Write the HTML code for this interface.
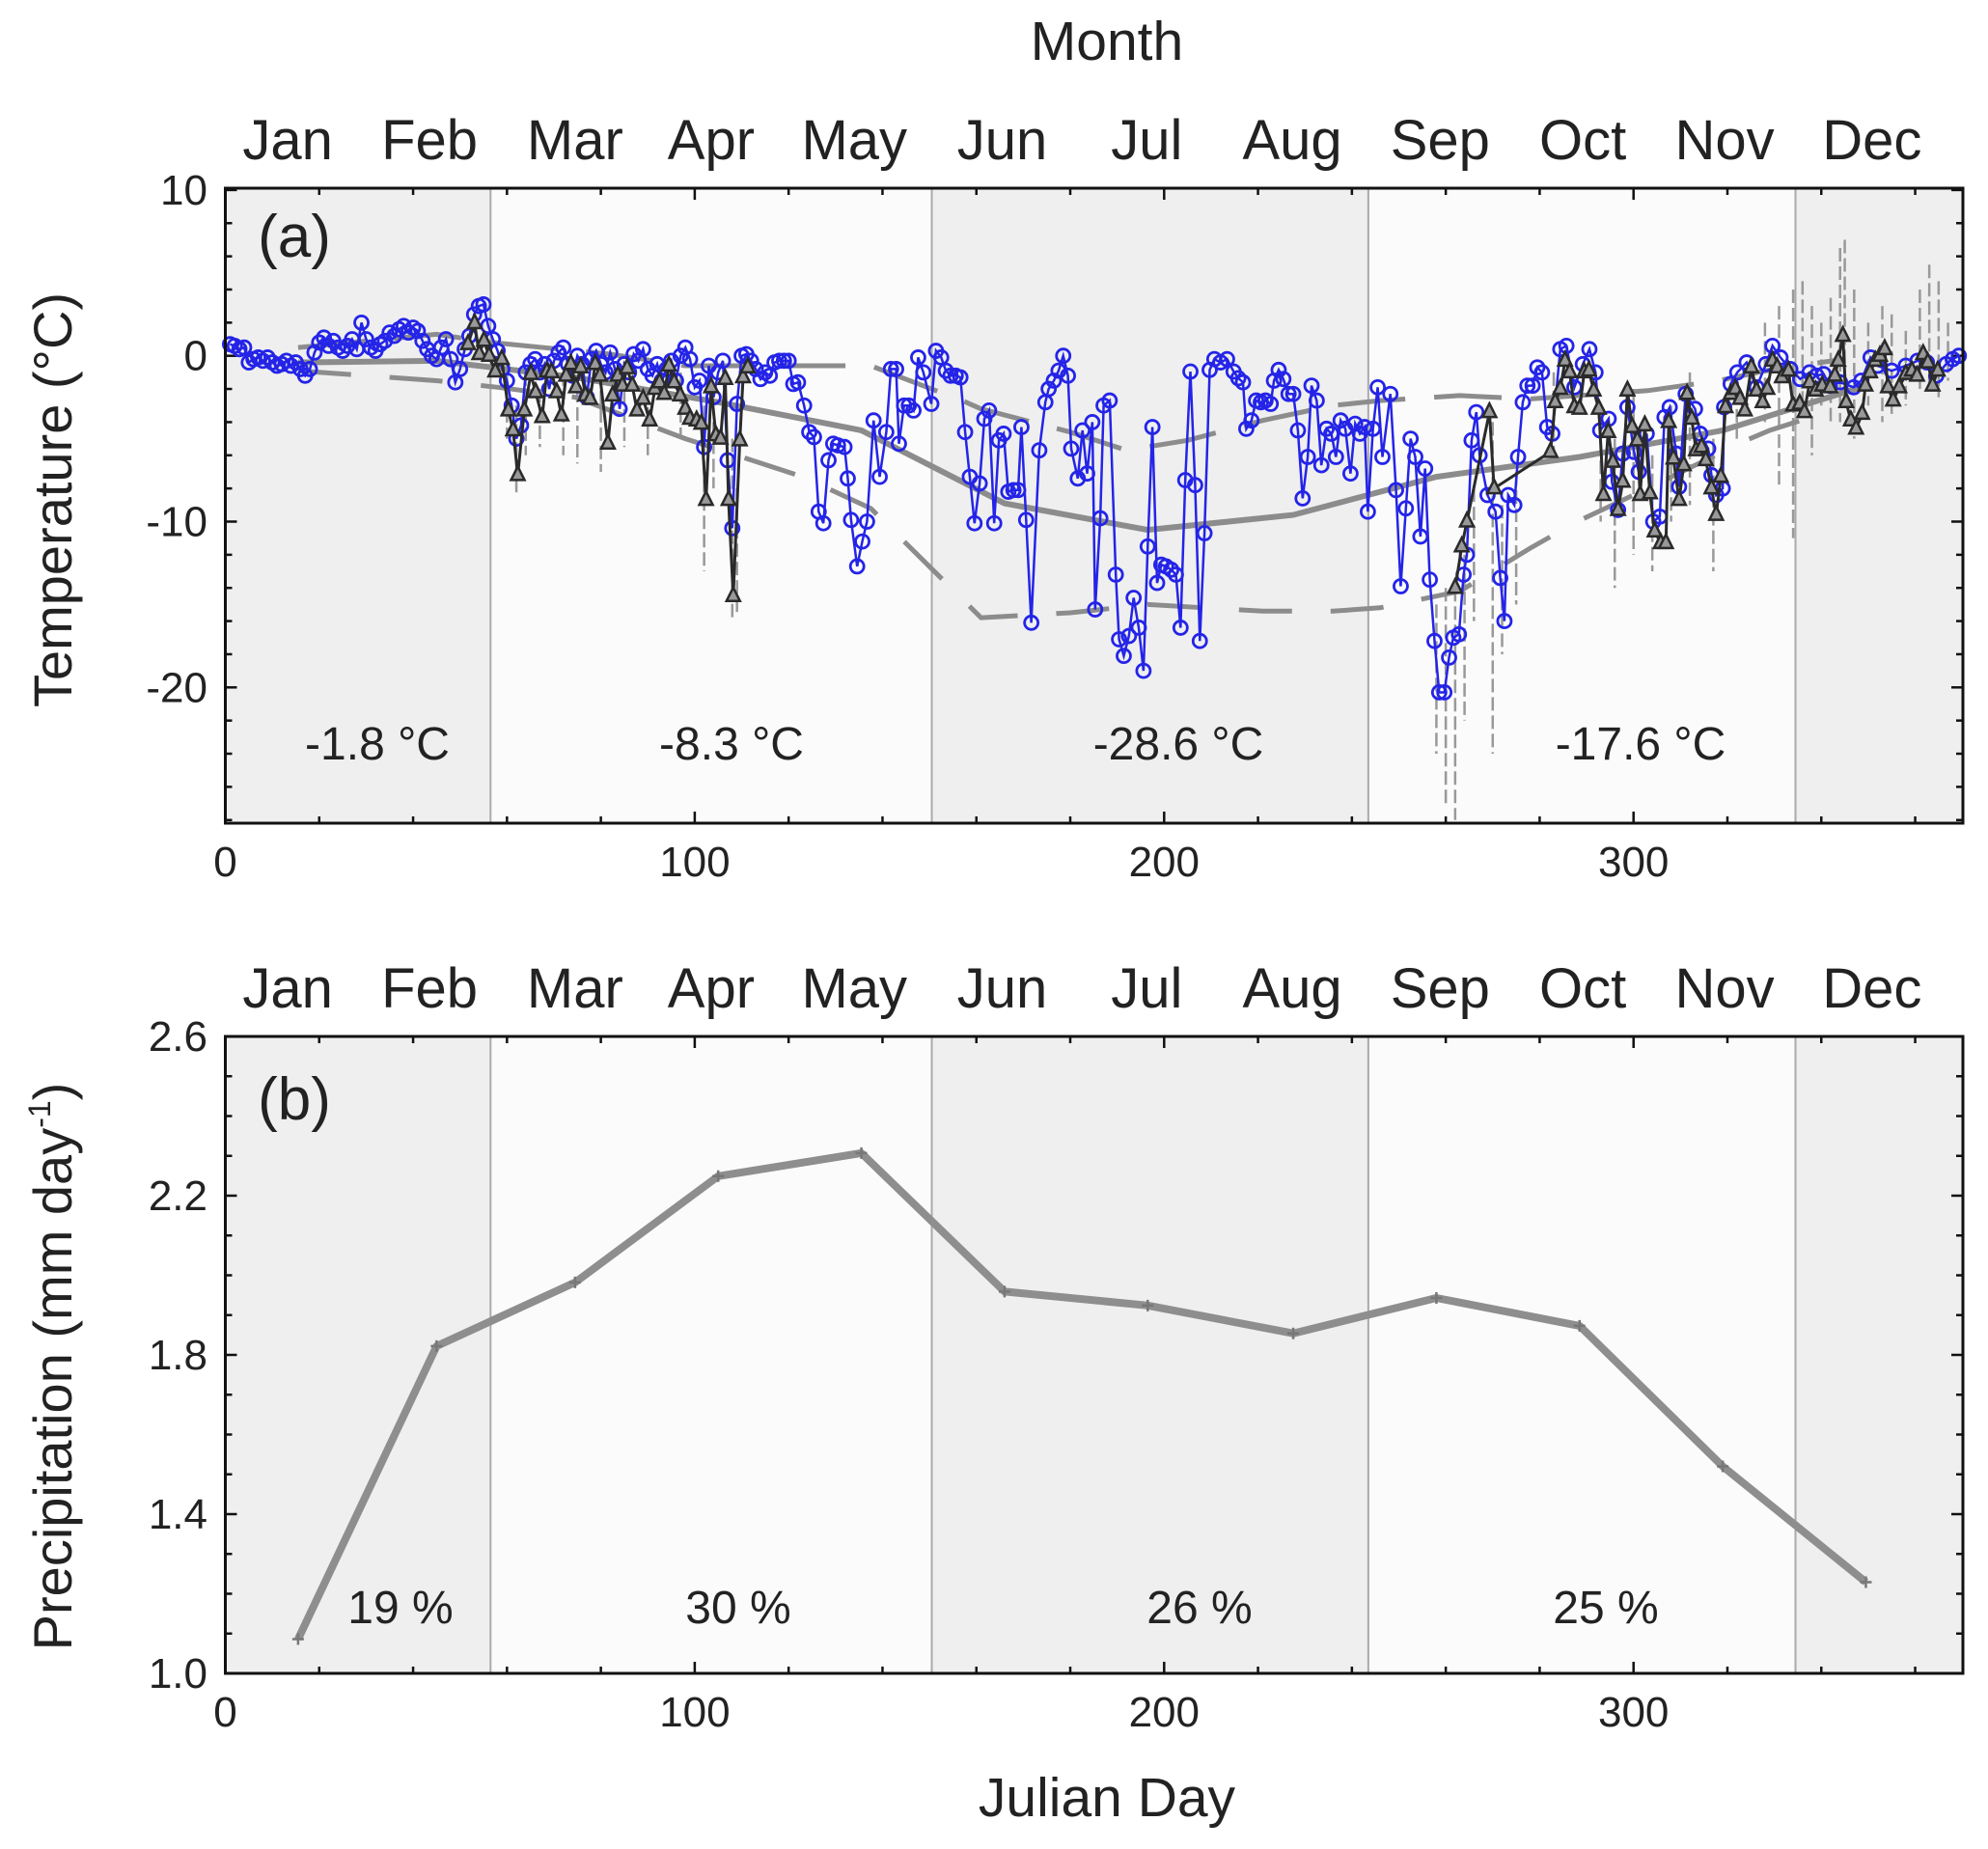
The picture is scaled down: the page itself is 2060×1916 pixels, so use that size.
<!DOCTYPE html>
<html><head><meta charset="utf-8"><style>
html,body{margin:0;padding:0;background:#fff;}
svg{display:block;font-family:"Liberation Sans",Arial,sans-serif;}
</style></head><body>
<svg id="fig" width="2060" height="1916" viewBox="0 0 2060 1916" xmlns="http://www.w3.org/2000/svg"></svg>
<script>
// ---- data ----
const monthNames=["Jan","Feb","Mar","Apr","May","Jun","Jul","Aug","Sep","Oct","Nov","Dec"];
const monthMidDays=[15.5,45,74.5,105,135.5,166,196.5,227.5,258,288.5,319,349.5];
const monthLabelDays=[13.3,43.5,74.5,103.5,134,165.5,196.3,227.3,258.8,289.2,319.4,350.8];
const precipValues=[1.086,1.822,1.982,2.249,2.307,1.959,1.924,1.854,1.943,1.873,1.520,1.229];
const seasonBounds=[0,56.5,150.5,243.5,334.5,370];
const seasonTempLabels=["-1.8 °C","-8.3 °C","-28.6 °C","-17.6 °C"];
const seasonPrecipLabels=["19 %","30 %","26 %","25 %"];
const meanTemps=[-0.4,-0.3,-1.3,-2.8,-4.5,-8.9,-10.5,-9.6,-7.3,-6.1,-4.5,-1.8];
const lowDays=[15.5,45,58,74.5,98,123,137.5,151.4,161,180,196.5,221,236,246,263,278,288,303,324,329,340];
const lowTemps=[-0.9,-1.5,-1.9,-2.5,-5.0,-7.3,-9.2,-13.1,-15.8,-15.5,-15.0,-15.4,-15.4,-15.2,-14.2,-11.6,-10.0,-8.0,-5.1,-4.5,-3.5];
const highDays=[15.5,45,57,82,98,123,137.5,151.4,157,161,180,192,205,221,236,246,263,278,303,318,330,345];
const highTemps=[0.5,1.3,0.8,0.1,-0.6,-0.6,-0.6,-2.1,-2.7,-3.2,-4.6,-5.7,-5.1,-3.9,-3.0,-2.7,-2.4,-2.6,-2.1,-1.5,-0.8,-0.2];
const blueDays=[1,2,3,4,5,6,7,8,9,10,11,12,13,14,15,16,17,18,19,20,21,22,23,24,25,26,27,28,29,30,31,32,33,34,35,36,37,38,39,40,41,42,43,44,45,46,47,48,49,50,51,52,53,54,55,56,57,
58,59,60,61,62,63,64,65,66,67,68,69,70,71,72,73,74,75,76,77,78,79,80,81,82,83,84,85,86,87,88,89,90,91,92,93,94,95,96,97,98,99,
100,101,102,103,104,105,106,107,108,109,110,111,112,113,114,115,116,117,118,119,120,121,122,
123.3,124.4,125.4,126.4,127.4,128.5,129.5,130.5,131.9,132.6,133.3,134.6,135.7,136.7,138.1,139.4,140.8,141.8,142.9,143.5,144.6,145.6,146.6,147.6,148.7,150.4,151.4,152.5,153.5,154.5,155.6,156.6,157.6,158.6,159.6,160.7,161.7,162.7,163.8,164.8,165.8,166.8,167.9,168.9,169.6,170.6,171.7,173.4,174.7,175.4,176.5,177.5,178.5,179.5,180.2,181.6,182.6,183.6,184.7,185.3,186.4,187.1,188.4,189.7,190.4,191.4,
192.5,193.5,194.6,195.6,196.5,197.5,198.5,199.4,200.4,201.5,202.5,203.5,204.5,205.6,206.6,207.6,208.6,209.7,210.7,212,213.4,214.8,215.8,216.8,217.5,218.6,219.6,220.6,221.6,222.7,223.4,224.4,225.4,226.5,227.5,228.5,229.5,230.6,231.4,232.5,233.5,234.6,235.6,236.6,237.6,238.6,239.7,240.7,241.7,242.7,243.4,244.5,245.5,246.5,248.2,249.4,250.4,251.5,252.5,253.5,254.6,255.6,256.6,257.6,258.6,259.7,260.7,261.6,262.8,263.8,264.5,265.5,266.5,267.2,268.9,270.6,271.6,272.5,273.3,274.6,275.4,276.4,277.4,278.5,279.5,280.5,281.6,282.7,284.4,
285.7,287.4,289.2,290.6,291.9,292.9,294.7,295.4,296.7,297.7,298.7,300.1,301.1,302.8,304.2,305.6,306.6,307.7,309.1,309.7,311.1,313.1,314.2,315.9,316.6,317.6,319,319.3,320.7,322.1,324.1,326.2,328.2,329.6,331.3,333.4,335.5,337.5,339,340.5,341.8,344,346.9,348.5,350.5,352,355,358,360.5,362.5,364.5,366.6,368,369.3];
const blueTemps=[0.7,0.6,0.4,0.5,-0.4,-0.2,-0.1,-0.3,-0.1,-0.4,-0.6,-0.5,-0.3,-0.6,-0.4,-0.8,-1.2,-0.8,0.2,0.8,1.1,0.6,0.9,0.5,0.3,0.6,1.0,0.4,2.0,1.0,0.5,0.3,0.7,0.9,1.4,1.2,1.6,1.8,1.4,1.7,1.5,0.9,0.4,0.0,-0.2,0.5,1.0,-0.2,-1.6,-0.8,0.4,1.2,2.5,3.0,3.1,1.8,1.0,
0.3,-0.8,-1.5,-3.0,-5.0,-4.2,-1.0,-0.5,-0.2,-1.0,-0.5,-2.0,-0.3,0.2,0.5,-0.5,-1.2,0.0,-0.5,-2.5,-0.2,0.3,-0.5,-1.0,0.2,-0.8,-3.2,-0.5,-1.0,0.1,-0.3,0.4,-0.8,-1.2,-0.5,-1.5,-0.8,-0.3,-1.5,0.0,0.5,-0.2,
-1.9,-1.5,-5.5,-0.6,-2.5,-1.0,-0.3,-6.3,-10.4,-2.9,0.0,0.1,-0.3,-0.8,-1.4,-1.0,-1.2,-0.4,-0.3,-0.3,-0.3,-1.7,-1.6,
-3.0,-4.6,-4.9,-9.4,-10.1,-6.3,-5.3,-5.4,-5.5,-7.4,-9.9,-12.7,-11.2,-10.0,-3.9,-7.3,-4.6,-0.8,-0.8,-5.3,-3.0,-3.0,-3.3,-0.1,-1.0,-2.9,0.3,-0.1,-0.9,-1.2,-1.2,-1.3,-4.6,-7.3,-10.1,-7.7,-3.8,-3.3,-10.1,-5.1,-4.7,-8.2,-8.1,-8.1,-4.3,-9.9,-16.1,-5.7,-2.8,-2.0,-1.5,-0.9,0.0,-1.2,-5.6,-7.4,-4.5,-7.1,-4.0,-15.3,-9.8,-3.0,-2.7,-13.2,-17.1,-18.1,
-16.9,-14.6,-16.4,-19.0,-11.5,-4.3,-13.7,-12.6,-12.7,-12.9,-13.2,-16.4,-7.5,-0.95,-7.8,-17.2,-10.7,-0.85,-0.2,-0.4,-0.2,-0.95,-1.35,-1.6,-4.4,-3.9,-2.7,-2.8,-2.7,-2.9,-1.5,-0.85,-1.4,-2.3,-2.3,-4.5,-8.6,-6.1,-1.8,-2.7,-6.6,-4.4,-4.7,-6.1,-3.9,-4.4,-7.1,-4.1,-4.7,-4.3,-9.4,-4.4,-1.9,-6.1,-2.3,-8.1,-13.9,-9.2,-5.0,-6.1,-10.9,-6.8,-13.5,-17.2,-20.3,-20.3,-18.2,-17.0,-16.8,-13.2,-12.0,-5.1,-3.4,-6.0,-8.4,-9.4,-13.4,-16.0,-8.4,-9.0,-6.1,-2.8,-1.8,-1.8,-0.7,-1.0,-4.3,-4.7,0.4,
0.6,-1.9,-0.5,0.4,-1.0,-4.5,-3.8,-7.6,-9.3,-5.9,-3.1,-5.8,-7.0,-4.7,-10.0,-9.7,-3.7,-3.1,-5.9,-7.9,-2.3,-3.2,-4.7,-5.6,-7.2,-8.4,-8.0,-3.1,-1.7,-1.0,-0.4,-1.9,-0.5,0.6,-0.1,-0.8,-1.4,-1.0,-1.2,-1.1,-1.8,-1.6,-1.9,-1.5,-0.1,-0.6,-0.9,-0.6,-0.3,-0.4,-1.2,-0.5,-0.2,0.0];
const triDays=[51.7,53.1,54.1,55.1,56.2,57.5,58.9,60.3,61.3,62.3,63.7,65.1,66.1,67.5,68.5,69.5,70.6,71.6,72.6,73.6,74.7,75.7,76.7,77.7,78.8,79.8,81.5,82.5,83.6,84.6,85.6,86.7,87.7,89,90.4,91.5,92.5,93.5,94.5,95.6,96.9,98,99,100.4,101.4,102.4,103.5,104.5,105.5,106.5,107.2,108.2,109.6,110.3,111.3,
262,263.4,264.5,269.3,270.3,282.3,283.3,284.4,285.4,286.4,287.4,288.5,289.5,290.5,291.5,292.6,293.6,294.6,295.6,296.7,297.7,298.7,299.7,300.8,301.4,302.4,303.5,304.5,305.8,306.9,307.5,308.5,309.7,310.7,311.4,312.4,313.3,314.5,315.4,316.6,317.6,318.6,319.6,320.7,321.7,322.7,323.7,325.1,326.2,327.5,328.5,329.6,330.6,331.6,333,334,335.4,336.4,337.5,338.8,340.2,341.9,342.9,343.6,344.6,345.3,346.3,347.4,348.7,349.4,350.4,351.5,352.5,353.5,354.2,355.3,356.6,358,359.3,360.4,361.7,362.7,363.7,364.8];
const triTemps=[0.7,1.96,0.1,0.9,0.0,-0.95,-0.2,-3.3,-4.5,-7.2,-3.3,-1.1,-2.2,-3.7,-0.95,-1.0,-2.2,-3.6,-1.2,-0.5,-1.9,-0.7,-2.4,-2.6,-0.5,-1.2,-5.3,-2.4,-1.2,-1.8,-0.75,-1.8,-3.3,-2.6,-3.9,-2.0,-1.6,-2.3,-0.6,-1.6,-2.4,-3.2,-3.8,-3.9,-4.1,-8.7,-1.9,-4.8,-5.0,-1.4,-8.7,-14.5,-5.1,-1.3,-0.7,
-14.0,-11.5,-10.0,-3.4,-8.0,-5.8,-2.8,-2.0,-0.3,-1.0,-3.1,-3.2,-1.0,-0.9,-2.1,-3.2,-8.4,-4.6,-6.4,-9.3,-7.6,-2.1,-4.3,-5.1,-8.4,-4.2,-8.3,-10.6,-11.3,-11.3,-4.0,-6.2,-8.7,-6.6,-2.3,-3.8,-5.7,-5.5,-6.3,-8.0,-9.6,-7.3,-3.1,-2.3,-2.0,-2.6,-3.3,-0.7,-2.1,-2.8,-2.0,-0.3,-0.7,-1.3,-0.9,-3.0,-2.9,-3.4,-1.6,-2.1,-1.8,-1.9,-1.2,-0.3,1.2,-2.8,-3.9,-4.4,-3.5,-1.8,-1.0,-0.3,0.0,0.4,-1.9,-2.7,-1.9,-1.1,-0.9,-1.2,0.1,-0.4,-1.8,-0.9];
const spikeDays=[60,62,64,67,72,75,80,85,90,97,102,104,108,109,258,260,262,264,266,270,272,275,283,293,296,300,304,308,312,317,322,328,331,334,336,338,340,342,344,345,347,350,353,355,358,361,363,365,367];
const spikeHigh=[-1,-3,-1,-2,-1,-2,-1,-1,-2,-1,-3,-4,-5,-8,-15,-14,-14,-12,-8,-4,-9,-7,-1,-3,-5,-2,-6,-3,-1,-5,-1,2,3,4,4.5,3,2,3.5,6.5,7,4,2,3,2.5,1.5,4,5.5,4.5,2];
const spikeLow=[-5,-8.5,-6,-5.5,-6,-6.5,-7,-5.5,-6,-5,-13,-8,-16,-15.5,-24,-27,-28,-22,-16,-24,-18,-15,-6,-10,-14,-12,-13,-10,-9,-13,-5,-4,-8,-11,-3,-6,-3,-4,-4,-2,-5,-3,-4,-3.5,-3,-2,-2,-2.5,-1.5];
const tempTicks=[10,0,-10,-20];
const precipTicks=[2.6,2.2,1.8,1.4,1.0];
const dayTicks=[0,100,200,300];

// ---- geometry ----
const L=233.5,R=2034,A_T=195,A_B=853,B_T=1074,B_B=1734;
const xS=d=>L+4.864*d;
const yA=t=>368.7-17.18*t;
const yB=v=>B_B-412.5*(v-1);
const NS="http://www.w3.org/2000/svg";
const svg=document.getElementById('fig');
function mk(tag,attrs,parent){const e=document.createElementNS(NS,tag);for(const k in attrs)e.setAttribute(k,attrs[k]);(parent||svg).appendChild(e);return e;}
function txt(s,x,y,size,anchor,parent){const t=mk('text',{x:x,y:y,'font-size':size,'text-anchor':anchor||'middle',fill:'#222'},parent);t.textContent=s;return t;}

function panel(top,bot,name){
  const g=mk('g',{});
  
  
  const shades=['#efefef','#fbfbfb','#efefef','#fbfbfb','#efefef'];
  for(let i=0;i<5;i++){
    const r=mk('rect',{x:xS(seasonBounds[i]),y:top,width:xS(seasonBounds[i+1])-xS(seasonBounds[i]),height:bot-top,fill:shades[i]},g);
    
    
  }
  for(let i=1;i<5;i++){
    const l=mk('line',{x1:xS(seasonBounds[i]),x2:xS(seasonBounds[i]),y1:top,y2:bot,stroke:'#aaa','stroke-width':2},g);
    
    
  }
  for(let d=0;d<=370;d+=20){
    const len=(d%100===0)?12:7;
    mk('line',{x1:xS(d),x2:xS(d),y1:bot,y2:bot-len,stroke:'#111','stroke-width':2.5},g);
    mk('line',{x1:xS(d),x2:xS(d),y1:top,y2:top+len,stroke:'#111','stroke-width':2.5},g);
  }
  dayTicks.forEach(d=>{
    const t=txt(String(d),xS(d),bot+55,44,'middle',g);
    
    
  });
  monthNames.forEach((m,i)=>{
    const t=txt(m,xS(monthLabelDays[i]),top-30,58,'middle',g);
    
    
  });
  return g;
}

// Panel A
const gA=panel(A_T,A_B,'temperature-panel');
for(let t=-28;t<=10;t+=2){
  const len=(t%10===0)?12:7;
  mk('line',{x1:L,x2:L+len,y1:yA(t),y2:yA(t),stroke:'#111','stroke-width':2.5},gA);
  mk('line',{x1:R,x2:R-len,y1:yA(t),y2:yA(t),stroke:'#111','stroke-width':2.5},gA);
}
tempTicks.forEach(t=>{
  const e=txt(String(t),215,yA(t)+15,44,'end',gA);
  
  
});
spikeDays.forEach((d,i)=>{
  const l=mk('line',{x1:xS(d),x2:xS(d),y1:yA(spikeHigh[i]),y2:yA(spikeLow[i]),stroke:'#999','stroke-width':2.5,'stroke-dasharray':'14 5'},gA);
  
  
});
function poly(days,vals,yf,attrs,name,parent){
  const p=mk('polyline',Object.assign({points:days.map((d,i)=>xS(d).toFixed(1)+','+yf(vals[i]).toFixed(1)).join(' '),fill:'none'},attrs),parent);
  
  
  return p;
}
poly(lowDays,lowTemps,yA,{stroke:'#8c8c8c','stroke-width':5,'stroke-dasharray':'55 40'},'monthly-min-line',gA);
poly(highDays,highTemps,yA,{stroke:'#8c8c8c','stroke-width':5,'stroke-dasharray':'70 30'},'monthly-max-line',gA);
poly(monthMidDays,meanTemps,yA,{stroke:'#8c8c8c','stroke-width':6},'monthly-mean-line',gA);
poly(blueDays,blueTemps,yA,{stroke:'#2424e8','stroke-width':2.5},'daily-temp-line',gA);
blueDays.forEach((d,i)=>{
  const c=mk('circle',{cx:xS(d),cy:yA(blueTemps[i]),r:7,fill:'none',stroke:'#2424e8','stroke-width':2.8},gA);
  
  
});
const triSplit=triDays.findIndex(d=>d>200);
poly(triDays.slice(0,triSplit),triTemps.slice(0,triSplit),yA,{stroke:'#2a2a2a','stroke-width':3},'station-temp-line',gA);
poly(triDays.slice(triSplit),triTemps.slice(triSplit),yA,{stroke:'#2a2a2a','stroke-width':3},'station-temp-line',gA);
triDays.forEach((d,i)=>{
  const x=xS(d),y=yA(triTemps[i]);
  const p=mk('polygon',{points:`${x},${y-9} ${x-7},${y+5} ${x+7},${y+5}`,fill:'#999',stroke:'#2a2a2a','stroke-width':2.5},gA);
  
  
});
mk('rect',{x:L,y:A_T,width:R-L,height:A_B-A_T,fill:'none',stroke:'#111','stroke-width':3},gA);
seasonTempLabels.forEach((s,i)=>{
  const cx=[391,758,1221,1700][i];
  const t=txt(s,cx,787,48,'middle',gA);
  
  
});
let pa=txt('(a)',305,266,62,'middle',gA);



// Panel B
const gB=panel(B_T,B_B,'precipitation-panel');
for(let k=0;k<=16;k++){
  const v=1+k*0.1;const len=(k%4===0)?12:7;
  mk('line',{x1:L,x2:L+len,y1:yB(v),y2:yB(v),stroke:'#111','stroke-width':2.5},gB);
  mk('line',{x1:R,x2:R-len,y1:yB(v),y2:yB(v),stroke:'#111','stroke-width':2.5},gB);
}
precipTicks.forEach(v=>{
  const e=txt(v.toFixed(1),215,yB(v)+15,44,'end',gB);
  
  
});
poly(monthMidDays,precipValues,yB,{stroke:'#8e8e8e','stroke-width':8,'stroke-linejoin':'round'},'precipitation-line',gB);
monthMidDays.forEach((d,i)=>{
  const x=xS(d),y=yB(precipValues[i]);
  const p=mk('path',{d:`M${x-6},${y}H${x+6}M${x},${y-6}V${y+6}`,stroke:'#777','stroke-width':2.5},gB);
  
  
});
mk('rect',{x:L,y:B_T,width:R-L,height:B_B-B_T,fill:'none',stroke:'#111','stroke-width':3},gB);
seasonPrecipLabels.forEach((s,i)=>{
  const cx=[415,765,1243,1664][i];
  const t=txt(s,cx,1682,48,'middle',gB);
  
  
});
let pb=txt('(b)',305,1160,62,'middle',gB);



// titles
let mt=txt('Month',1147,62,57,'middle');


let jd=txt('Julian Day',1147,1882,57,'middle');


let ya=txt('Temperature (°C)',0,0,56,'middle');
ya.setAttribute('transform','translate(74,518) rotate(-90)');


let yb=mk('text',{'font-size':56,'text-anchor':'middle',fill:'#222',transform:'translate(74,1416) rotate(-90)'});


yb.appendChild(document.createTextNode('Precipitation (mm day'));
const sup=mk('tspan',{'font-size':32,dy:-22},yb);sup.textContent='-1';
const cl=mk('tspan',{dy:22},yb);cl.textContent=')';
</script>
</body></html>
